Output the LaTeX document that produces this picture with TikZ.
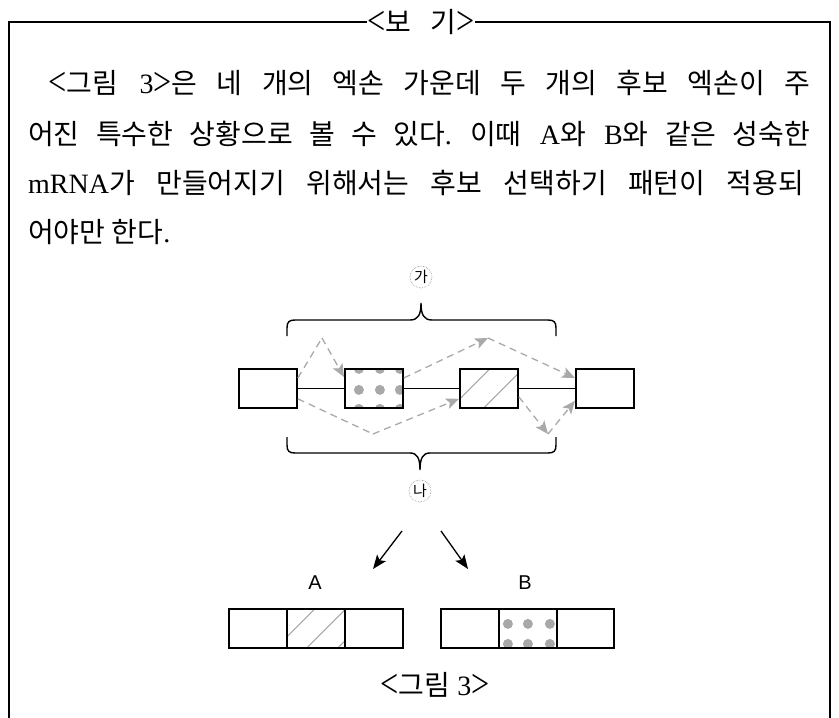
\documentclass[tikz,border=0pt]{standalone}
\usepackage{fontspec}
\setmainfont{Liberation Serif}
\newfontfamily\kr{Noto Sans CJK KR}
\newfontfamily\lsans{Liberation Sans}
\usetikzlibrary{arrows.meta,calc}
\definecolor{dotgray}{HTML}{A8A8A8}
\definecolor{dashgray}{HTML}{A9A9A9}
\definecolor{hatchgray}{HTML}{9A9A9A}
\newcommand{\lbr}{\raisebox{-0.08em}{\scalebox{1.15}[1.45]{<}}}
\newcommand{\rbr}{\raisebox{-0.08em}{\scalebox{1.15}[1.45]{>}}}
\begin{document}
\begin{tikzpicture}[x=1pt,y=-1pt,
  txt/.style={anchor=west, inner sep=0pt, font=\fontsize{28pt}{32pt}\selectfont\frenchspacing},
  exon/.style={draw, line width=1.8pt, minimum width=58pt, minimum height=39pt, inner sep=0pt, anchor=north west},
  frame/.style={line width=1.3pt},
  brace/.style={line width=1.4pt},
  joinline/.style={line width=1.5pt},
  dasharrow/.style={dashgray, line width=1.3pt, dash pattern=on 7pt off 5pt},
  gtip/.style={-{Stealth[length=13pt,width=11pt,inset=3pt]}},
  blackarrow/.style={line width=1.3pt, -{Stealth[length=14pt,width=11pt,inset=3pt]}},
  circ/.style={circle, draw=black!45, densely dotted, line width=0.6pt, minimum size=22pt, inner sep=0pt, font=\kr\fontsize{15pt}{15pt}\selectfont},
  lab/.style={inner sep=0pt, font=\lsans\fontsize{20pt}{20pt}\selectfont},
  dots/.style={path picture={
     \foreach \dx in {#1} \foreach \dy in {0,21,40}
       \fill[dotgray] ($(path picture bounding box.north west)+(\dx,\dy)$) circle[radius=5pt];}},
  dotsB/.style={path picture={
     \foreach \dx in {9,29,51} \foreach \dy in {15,35}
       \fill[dotgray] ($(path picture bounding box.north west)+(\dx,\dy)$) circle[radius=5pt];}},
  hatch/.style={path picture={
     \foreach \c in {#1}
       \draw[hatchgray, line width=0.8pt] ($(path picture bounding box.north west)+(\c-60,60)$) -- ($(path picture bounding box.north west)+(\c+20,-20)$);}}
]
\useasboundingbox (0,0) rectangle (839,718);

% frame and title
\node[inner sep=0pt, font=\fontsize{28pt}{32pt}\selectfont] (title) at (421,22) {\lbr{\kr 보}\hspace{20pt}{\kr 기}\rbr};
\draw[frame] (title.west) -- (9,22) -- (9,720);
\draw[frame] (title.east) -- (830,22) -- (830,720);

% body text
\node[txt] (l1) at (48,83) {\makebox[762pt][s]{\lbr{\kr 그림} 3\rbr{\kr 은 네 개의 엑손 가운데 두 개의 후보 엑손이 주}}};
\node[txt] (l2) at (28,134) {\makebox[782pt][s]{{\kr 어진 특수한 상황으로 볼 수 있다}. {\kr 이때} A{\kr 와} B{\kr 와 같은 성숙한}}};
\node[txt] (l3) at (28,183) {\makebox[776pt][s]{mRNA{\kr 가 만들어지기 위해서는 후보 선택하기 패턴이 적용되}}};
\node[txt] (l4) at (28,232) {{\kr 어야만 한다}.};

% exons
\node[exon] (b1) at (238,368) {};
\node[exon, dots={14,35,55}] (b2) at (344,368) {};
\node[exon, hatch={30,63,96}] (b3) at (459,368) {};
\node[exon] (b4) at (575,368) {};
\draw[joinline] (b1) -- (b2);
\draw[joinline] (b2) -- (b3);
\draw[joinline] (b3) -- (b4);

% braces
\draw[brace] (287,336) -- (287,328) .. controls (287,322) and (289,320) .. (295,320) -- (410,320)
  .. controls (418,320) and (421,315) .. (421,303) .. controls (421,315) and (424,320) .. (432,320)
  -- (548,320) .. controls (554,320) and (556,322) .. (556,328) -- (556,336);
\draw[brace] (287,437) -- (287,445) .. controls (287,451) and (289,453) .. (295,453) -- (410,453)
  .. controls (417,453) and (420,458) .. (420,470) .. controls (420,458) and (423,453) .. (430,453)
  -- (548,453) .. controls (554,453) and (556,451) .. (556,445) -- (556,437);
\node[circ] (ga) at (421,277) {가};
\node[circ] (na) at (420,491) {나};

% dashed alternative paths
\coordinate (p1) at (322,338);
\coordinate (p2) at (488,338);
\coordinate (p3) at (373,434);
\coordinate (p4) at (548,434);
\draw[dasharrow] ($(b1.north east)+(0,10)$) -- (p1);
\draw[dasharrow, gtip] (p1) -- ($(b2.north west)+(0,9)$);
\draw[dasharrow, gtip] ($(b2.north east)+(0,10)$) -- (p2);
\draw[dasharrow, gtip] (p2) -- ($(b4.north west)+(0,10)$);
\draw[dasharrow] ($(b1.south east)+(0,-10)$) -- (p3);
\draw[dasharrow, gtip] (p3) -- ($(b3.south west)+(0,-10)$);
\draw[dasharrow, gtip] ($(b3.south east)+(0,-12)$) -- (p4);
\draw[dasharrow, gtip] (p4) -- ($(b4.south west)+(0,-8)$);

% black arrows
\coordinate (k1) at (402,531);
\coordinate (k2) at (373,569);
\coordinate (k3) at (441,531);
\coordinate (k4) at (468,569);
\draw[blackarrow] (k1) -- (k2);
\draw[blackarrow] (k3) -- (k4);

\node[lab] (A) at (315,583) {A};
\node[lab] (B) at (525,583) {B};

% mature mRNAs
\node[exon] (a1) at (228,608) {};
\node[exon, hatch={28,59,90}] (a2) at (286,608) {};
\node[exon] (a3) at (344,608) {};
\node[exon] (c1) at (440,608) {};
\node[exon, dotsB] (c2) at (498,608) {};
\node[exon, minimum width=57pt] (c3) at (556,608) {};

\node[inner sep=0pt, font=\fontsize{28pt}{32pt}\selectfont] (cap) at (435,685) {\lbr{\kr 그림} 3\rbr};
\end{tikzpicture}
\end{document}
